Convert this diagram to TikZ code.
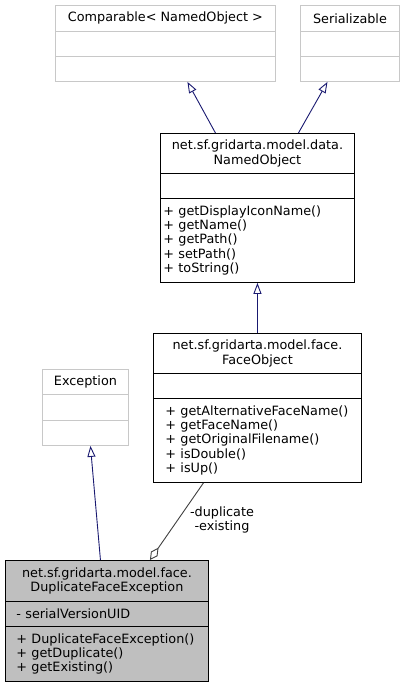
\documentclass[tikz,border=0pt]{standalone}
\usepackage{fontspec}
\setmainfont{DejaVu Sans}
\usetikzlibrary{arrows.meta}
\definecolor{extgray}{HTML}{C8C8C8}
\definecolor{navy}{HTML}{191970}
\definecolor{agg}{HTML}{404040}
\definecolor{cur}{HTML}{BFBFBF}
\begin{document}
\begin{tikzpicture}[x=1pt,y=-1pt,
  font=\fontsize{12.8}{14.25}\selectfont,
  comp/.style={rectangle, draw=black, line width=0.9pt, inner sep=0pt, anchor=north west, fill=white},
  extcomp/.style={comp, draw=extgray},
  curcomp/.style={comp, fill=cur},
  inherit/.style={draw=navy, line width=0.9pt, -{Triangle[open,length=11pt,width=8pt,fill=white]}},
  aggr/.style={draw=agg, line width=0.9pt, {Diamond[open,length=15pt,width=8pt,fill=white]}-},
  lbl/.style={align=center, inner sep=0pt, font=\fontsize{12.8}{14.25}\selectfont}
]
\useasboundingbox (0,0) rectangle (404,687);

% Comparable< NamedObject >
\node[extcomp, minimum width=220pt, minimum height=26pt] (cmpT) at (55,5) {Comparable< NamedObject >};
\node[extcomp, minimum width=220pt, minimum height=25pt] (cmpA) at (55,31) {};
\node[extcomp, minimum width=220pt, minimum height=25pt] (cmpM) at (55,56) {};

% Serializable
\node[extcomp, minimum width=99pt, minimum height=26pt] (serT) at (300,5) {Serializable};
\node[extcomp, minimum width=99pt, minimum height=25pt] (serA) at (300,31) {};
\node[extcomp, minimum width=99pt, minimum height=25pt] (serM) at (300,56) {};

% NamedObject
\node[comp, minimum width=194pt, minimum height=40pt, align=center] (nobT) at (160,133) {net.sf.gridarta.model.data.\\NamedObject};
\node[comp, minimum width=194pt, minimum height=25pt] (nobA) at (160,173) {};
\node[comp, minimum width=194pt, minimum height=84pt, text width=188pt, align=left] (nobM) at (160,198)
  {+ getDisplayIconName()\\+ getName()\\+ getPath()\\+ setPath()\\+ toString()};

% FaceObject
\node[comp, minimum width=208pt, minimum height=40pt, align=center] (fobT) at (153,333) {net.sf.gridarta.model.face.\\FaceObject};
\node[comp, minimum width=208pt, minimum height=25pt] (fobA) at (153,373) {};
\node[comp, minimum width=208pt, minimum height=84pt, text width=184pt, align=left] (fobM) at (153,398)
  {+ getAlternativeFaceName()\\+ getFaceName()\\+ getOriginalFilename()\\+ isDouble()\\+ isUp()};

% Exception
\node[extcomp, minimum width=86pt, minimum height=25pt] (excT) at (42,369) {Exception};
\node[extcomp, minimum width=86pt, minimum height=26pt] (excA) at (42,394) {};
\node[extcomp, minimum width=86pt, minimum height=25pt] (excM) at (42,420) {};

% DuplicateFaceException
\node[curcomp, minimum width=203pt, minimum height=41pt, align=center] (dfeT) at (5,560) {net.sf.gridarta.model.face.\\DuplicateFaceException};
\node[curcomp, minimum width=203pt, minimum height=25pt, text width=181pt, align=left] (dfeA) at (5,601) {- serialVersionUID};
\node[curcomp, minimum width=203pt, minimum height=55pt, text width=181pt, align=left] (dfeM) at (5,626)
  {+ DuplicateFaceException()\\+ getDuplicate()\\+ getExisting()};

% inheritance
\draw[inherit] ([xshift=-42pt]nobT.north) -- ([xshift=22pt]cmpM.south);
\draw[inherit] ([xshift=41pt]nobT.north) -- ([xshift=-22.5pt]serM.south);
\draw[inherit] (fobT.north) -- (nobM.south);
\draw[inherit] ([xshift=-6.5pt]dfeT.north) -- ([xshift=5pt]excM.south);

% aggregation
\draw[aggr] ([xshift=43pt]dfeT.north) -- ([xshift=-54pt]fobM.south);
\node[lbl] (aggLbl) at (222,520) {-duplicate\\-existing};
\end{tikzpicture}
\end{document}
